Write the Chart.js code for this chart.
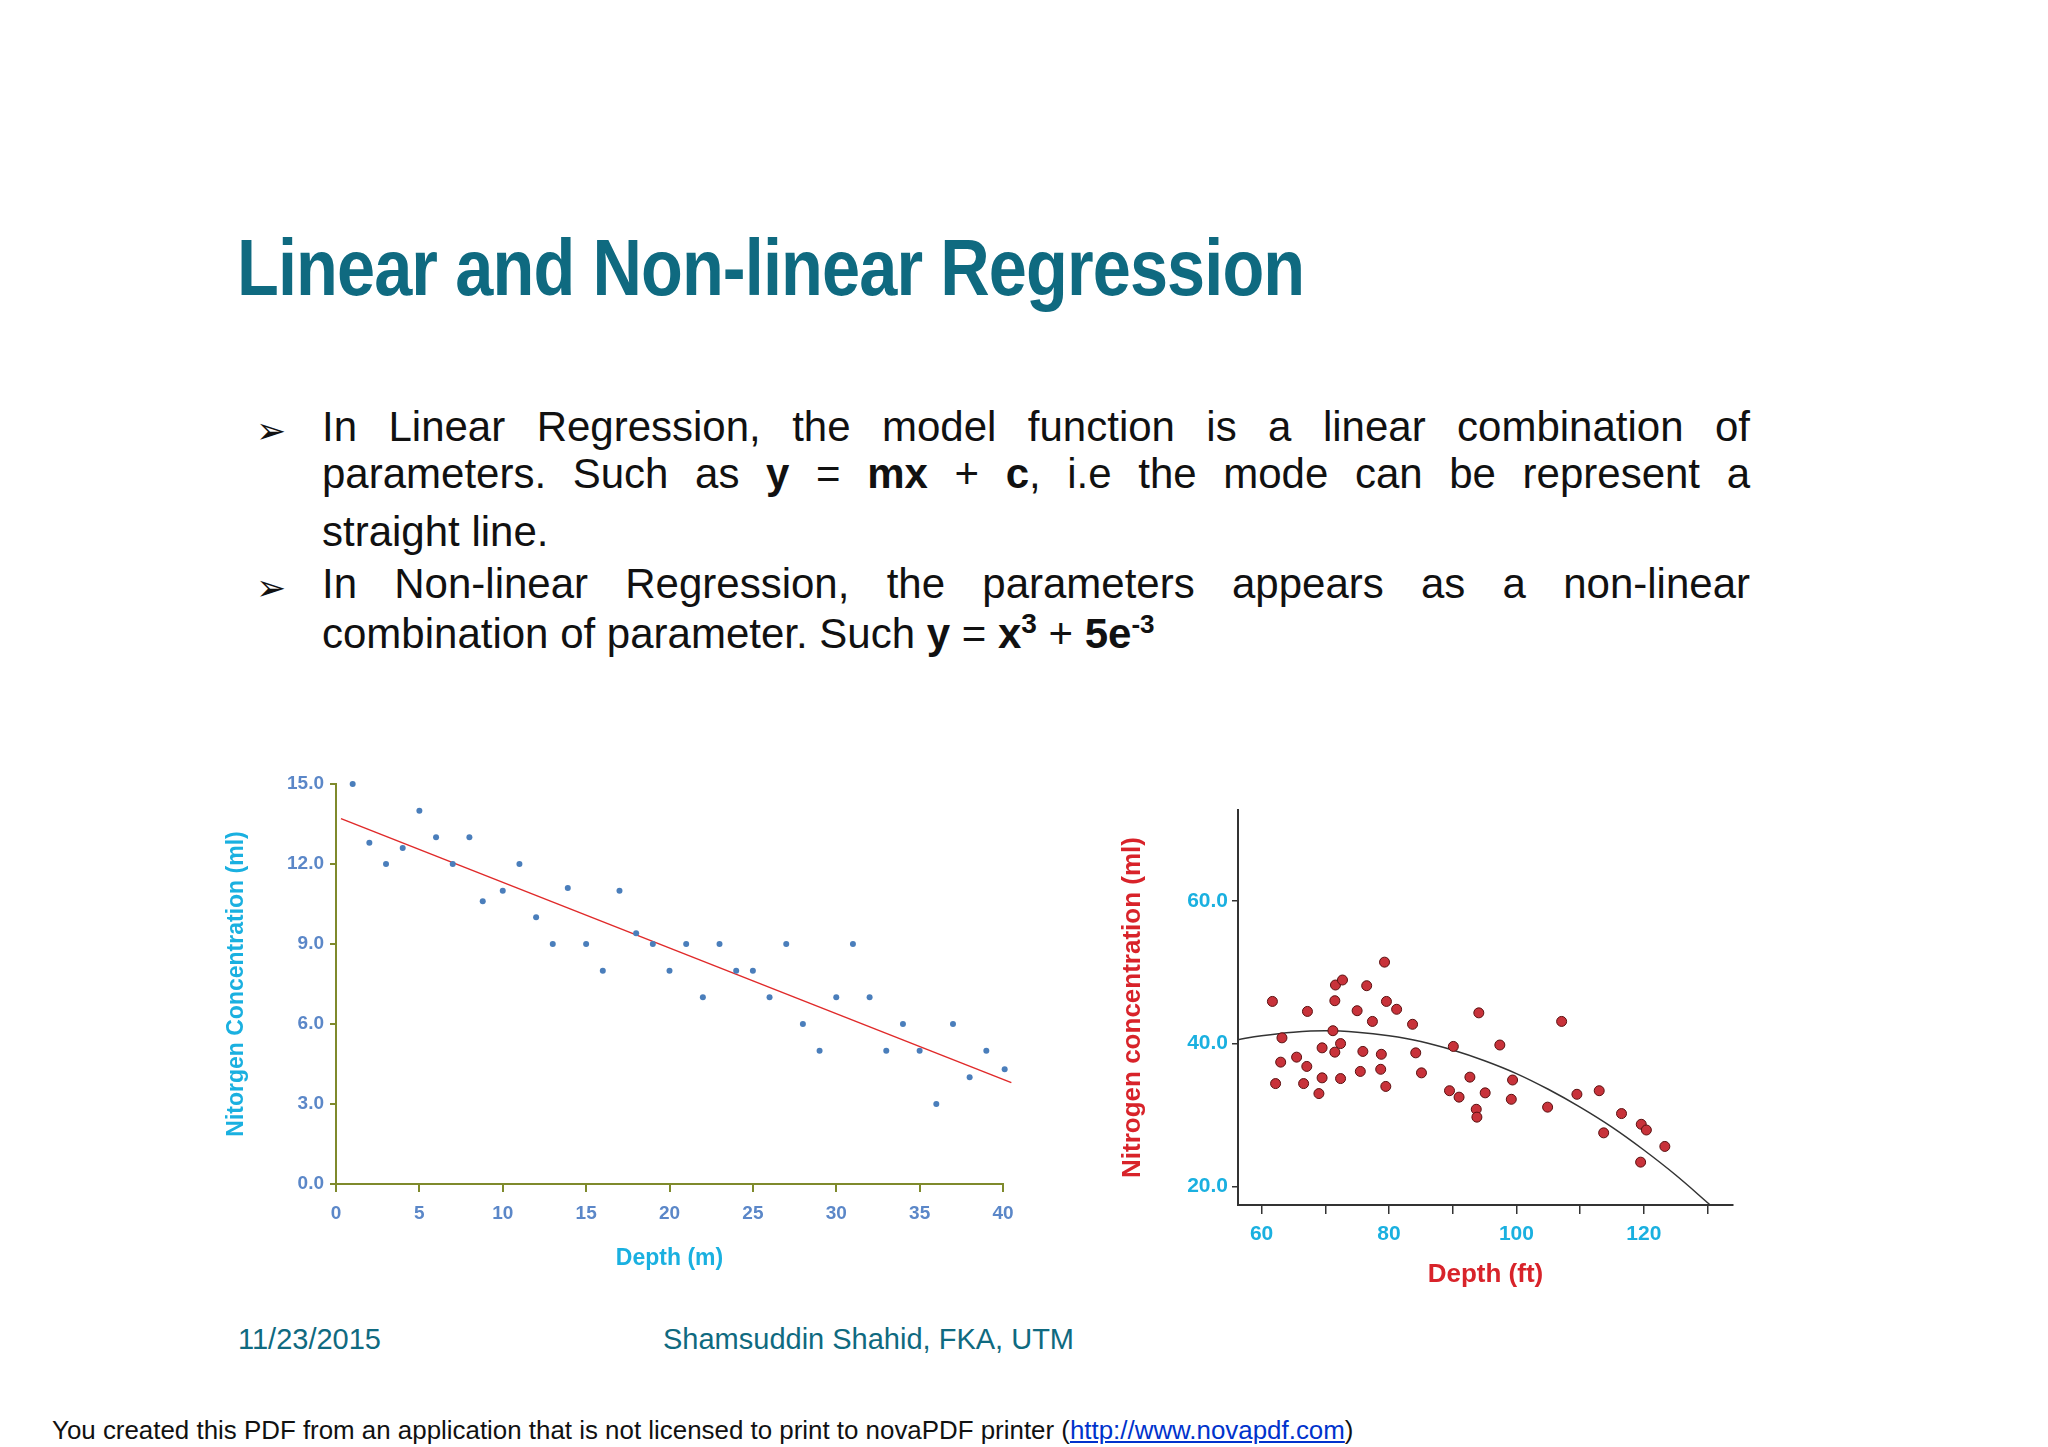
<!DOCTYPE html>
<html><head><meta charset="utf-8">
<script src="https://cdn.jsdelivr.net/npm/chart.js@4/dist/chart.umd.min.js"></script>
<style>
body{margin:0;width:2048px;height:1447px;background:#fff;position:relative;overflow:hidden;font-family:"Liberation Sans",Arial,sans-serif}
.t{position:absolute;white-space:nowrap}
.title{left:237px;top:222px;font-weight:bold;font-size:80px;color:#0f6a80;letter-spacing:-1px;transform:scaleX(0.855);transform-origin:left top}
.ln{position:absolute;left:322px;width:1428px;font-size:42px;color:#111;text-align:justify;text-align-last:justify;line-height:1}
.bul{position:absolute;left:256px;font-size:36px;color:#111}
.foot{font-size:29px;color:#0f6a80}
canvas{position:absolute}
</style></head><body>
<div class="t title">Linear and Non-linear Regression</div>
<div class="bul" style="top:410px">➢</div>
<div class="ln" style="top:406px">In Linear Regression, the model function is a linear combination of</div>
<div class="ln" style="top:453px">parameters. Such as <b>y</b> = <b>mx</b> + <b>c</b>, i.e the mode can be represent a</div>
<div class="ln" style="top:511px;text-align-last:left">straight line.</div>
<div class="bul" style="top:567px">➢</div>
<div class="ln" style="top:563px">In Non-linear Regression, the parameters appears as a non-linear</div>
<div class="ln" style="top:610px;text-align-last:left;width:auto">combination of parameter. Such <b>y</b> = <b>x<sup style="font-size:28px">3</sup></b> + <b>5e<sup style="font-size:26px">-3</sup></b></div>
<div class="t foot" style="left:238px;top:1323px">11/23/2015</div>
<div class="t foot" style="left:663px;top:1323px">Shamsuddin Shahid, FKA, UTM</div>
<div class="t" style="left:52px;top:1416px;font-size:25.9px;color:#111">You created this PDF from an application that is not licensed to print to novaPDF printer (<span style="color:#0033cc;text-decoration:underline">http://www.novapdf.com</span>)</div>
<canvas id="c1" style="left:219px;top:756px;width:820px;height:540px" width="820" height="540"></canvas>
<canvas id="c2" style="left:1113px;top:790px;width:640px;height:520px" width="640" height="520"></canvas>
<script>
const depthM=[1,2,3,4,5,6,7,8,8.8,10,11,12,13,13.9,15,16,17,18,19,20,21,22,23,24,25,26,27,28,29,30,31,32,33,34,35,36,37,38,39,40.1];
const nitroM=[15,12.8,12,12.6,14,13,12,13,10.6,11,12,10,9,11.1,9,8,11,9.4,9,8,9,7,9,8,8,7,9,6,5,7,9,7,5,6,5,3,6,4,5,4.3];
const trendX=[0.3,40.5];
const trendY=[13.7,3.8];
const yTicksM=[0,3,6,9,12,15];
const xTicksM=[0,5,10,15,20,25,30,35,40];
const depthFt=[61.7,62.2,63.0,63.2,65.5,66.6,67.1,67.2,69.0,69.5,69.5,71.2,71.5,71.6,71.5,72.4,72.4,72.7,75.0,75.5,75.9,76.5,77.4,78.7,78.8,79.3,79.5,79.6,81.2,83.7,84.2,85.1,89.5,90.1,91.0,92.7,93.7,93.8,94.1,95.1,97.4,99.2,99.4,104.9,107.1,109.5,113.0,113.7,116.5,119.6,120.4,119.5,123.3];
const nitroFt=[45.9,34.4,37.4,40.8,38.1,34.4,36.8,44.5,33.0,39.4,35.2,41.8,46.0,48.2,38.8,40.0,35.1,48.9,44.6,36.1,38.9,48.1,43.1,36.4,38.5,51.4,34.0,45.9,44.8,42.7,38.7,35.9,33.4,39.6,32.5,35.3,30.8,29.7,44.3,33.1,39.8,32.2,34.9,31.1,43.1,32.9,33.4,27.5,30.2,28.7,27.9,23.4,25.6];
const curveX=[56,60,65,70,75,80,85,90,95,100,105,110,115,120,125,130.3];
const curveY=[40.5,41.1,41.6,41.8,41.6,41.1,40.3,39.1,37.6,35.8,33.6,31.1,28.3,25.1,21.6,17.5];
const yTicksFt=[20,40,60];
const xTicksFt=[60,70,80,90,100,110,120,130];
const xLabelsFt=[60,80,100,120];

const nf="'Liberation Sans',Arial,sans-serif";
const pts=(xs,ys)=>xs.map((x,i)=>({x:x,y:ys[i]}));
const olive='#7f8a2c';
new Chart(document.getElementById('c1'),{
 type:'scatter',
 data:{datasets:[
  {data:pts(depthM,nitroM),pointRadius:3,pointBackgroundColor:'#4a7ebb',pointBorderWidth:0,clip:false},
  {type:'line',data:pts(trendX,trendY),borderColor:'#e02a2a',borderWidth:1.5,pointRadius:0,fill:false,clip:false}
 ]},
 options:{responsive:false,animation:false,events:[],
  layout:{padding:{top:28,right:36,bottom:20}},
  plugins:{legend:{display:false},tooltip:{enabled:false}},
  scales:{
   x:{type:'linear',min:0,max:40,afterBuildTicks:s=>{s.ticks=xTicksM.map(v=>({value:v}))},afterFit:s=>{s.height=92},
      border:{color:olive,width:2},grid:{drawOnChartArea:false,color:olive,tickLength:8,lineWidth:2},
      ticks:{color:'#5b87c8',font:{family:nf,size:19,weight:'bold'},padding:10},
      title:{display:true,text:'Depth (m)',color:'#1ab0e0',font:{family:nf,size:23,weight:'bold'},padding:{top:12}}},
   y:{min:0,max:15,afterBuildTicks:s=>{s.ticks=yTicksM.map(v=>({value:v}))},afterFit:s=>{s.width=117},
      border:{color:olive,width:2},grid:{drawOnChartArea:false,color:olive,tickLength:6,lineWidth:2},
      ticks:{color:'#5b87c8',font:{family:nf,size:19,weight:'bold'},callback:v=>v.toFixed(1),padding:6},
      title:{display:true,text:'Nitorgen Concentration (ml)',color:'#1ab0e0',font:{family:nf,size:23,weight:'bold'},padding:{bottom:8}}}
  }}
});
new Chart(document.getElementById('c2'),{
 type:'scatter',
 data:{datasets:[
  {data:pts(depthFt,nitroFt),pointRadius:5,pointBackgroundColor:'#c8323a',pointBorderColor:'#5a1010',pointBorderWidth:1,clip:false},
  {type:'line',data:pts(curveX,curveY),borderColor:'#333',borderWidth:1.5,pointRadius:0,tension:0.4,fill:false}
 ]},
 options:{responsive:false,animation:false,events:[],
  layout:{padding:{top:20,right:20,bottom:16}},
  plugins:{legend:{display:false},tooltip:{enabled:false}},
  scales:{
   x:{type:'linear',min:56.3,max:134,afterBuildTicks:s=>{s.ticks=xTicksFt.map(v=>({value:v}))},afterFit:s=>{s.height=89},
      border:{color:'#333',width:2},grid:{drawOnChartArea:false,color:'#333',tickLength:9,lineWidth:1.5},
      ticks:{color:'#1ab0e0',font:{family:nf,size:21,weight:'bold'},padding:8,callback:v=>xLabelsFt.includes(v)?String(v):''},
      title:{display:true,text:'Depth (ft)',color:'#d8232a',font:{family:nf,size:26,weight:'bold'},padding:{top:10}}},
   y:{min:17.4,max:72.7,afterBuildTicks:s=>{s.ticks=yTicksFt.map(v=>({value:v}))},afterFit:s=>{s.width=125},
      border:{color:'#333',width:2},grid:{drawOnChartArea:false,color:'#333',tickLength:6,lineWidth:1.5},
      ticks:{color:'#1ab0e0',font:{family:nf,size:21,weight:'bold'},callback:v=>v.toFixed(1),padding:4},
      title:{display:true,text:'Nitrogen concentration (ml)',color:'#d8232a',font:{family:nf,size:26,weight:'bold'},padding:{bottom:10}}}
  }}
});
</script></body></html>
